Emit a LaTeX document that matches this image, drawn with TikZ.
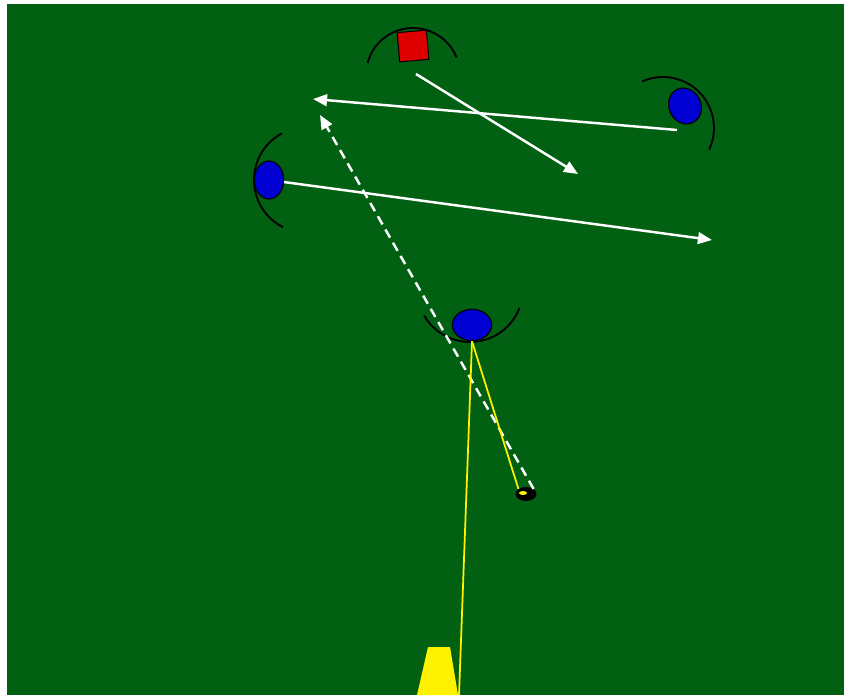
\documentclass[tikz,border=0pt]{standalone}
\usetikzlibrary{arrows.meta,shapes.geometric}

\definecolor{pitch}{RGB}{2,96,18}
\definecolor{shirt}{RGB}{0,0,210}
\definecolor{gkred}{RGB}{222,0,0}

\begin{document}
\begin{tikzpicture}[x=0.03cm, y=-0.03cm,
  player/.style={ellipse, draw=black, fill=shirt, line width=1pt, inner sep=0pt},
  keeper/.style={rectangle, draw=black, fill=gkred, line width=0.9pt, inner sep=0pt, minimum size=0.88cm},
  reach/.style={black, line width=1.6pt},
  pass/.style={white, line width=2.1pt, -{Triangle[length=12pt,width=10pt]}},
  run/.style={pass, dash pattern=on 8pt off 5pt},
  sight/.style={yellow, line width=1.5pt}]
  \useasboundingbox (0,0) rectangle (844,695);
  \fill[white] (0,0) rectangle (844,695);
  \fill[pitch] (7,4) rectangle (844,695);

  % players
  \node[keeper, rotate=5] (gk) at (413,46) {};
  \node[player, minimum width=0.96cm, minimum height=1.1cm, rotate=25] (rb) at (685,106) {};
  \node[player, minimum width=0.88cm, minimum height=1.14cm] (lb) at (269,180) {};
  \node[player, minimum width=1.18cm, minimum height=0.94cm] (st) at (472,325) {};
  \node[ellipse, fill=black, minimum width=0.63cm, minimum height=0.42cm, inner sep=0pt] (ball) at (526,494) {};
  \fill[yellow] (523,493) ellipse [x radius=4, y radius=2];

  % arcs of view
  \draw[reach] ([shift={(195:47)}]413,75) arc[start angle=195, end angle=338, radius=47];
  \draw[reach] ([shift={(246:51)}]663,128) arc[start angle=246, end angle=385, radius=51];
  \draw[reach] ([shift={(117:53)}]307,180) arc[start angle=117, end angle=242, radius=53];
  \draw[reach] ([shift={(150:53)}]470,289) arc[start angle=150, end angle=21, radius=53];

  % cone
  \fill[yellow] (417,695) -- (428,647) -- (450,647) -- (458,695) -- cycle;
  \coordinate (cone) at (459,695);

  % passes and runs
  \coordinate (s1) at (677,130);
  \coordinate (t1) at (313,99);
  \coordinate (s2) at (416,74);
  \coordinate (t2) at (578,174);
  \coordinate (t3) at (712,240);
  \coordinate (t4) at (320,115);
  \draw[pass] (s1) -- (t1);
  \draw[pass] (s2) -- (t2);
  \draw[pass] (lb) -- (t3);
  \draw[run] (ball.north east) -- (t4);

  \draw[sight] (st.south) -- (ball.north west);
  \draw[sight] (st.south) -- (cone);
\end{tikzpicture}
\end{document}
